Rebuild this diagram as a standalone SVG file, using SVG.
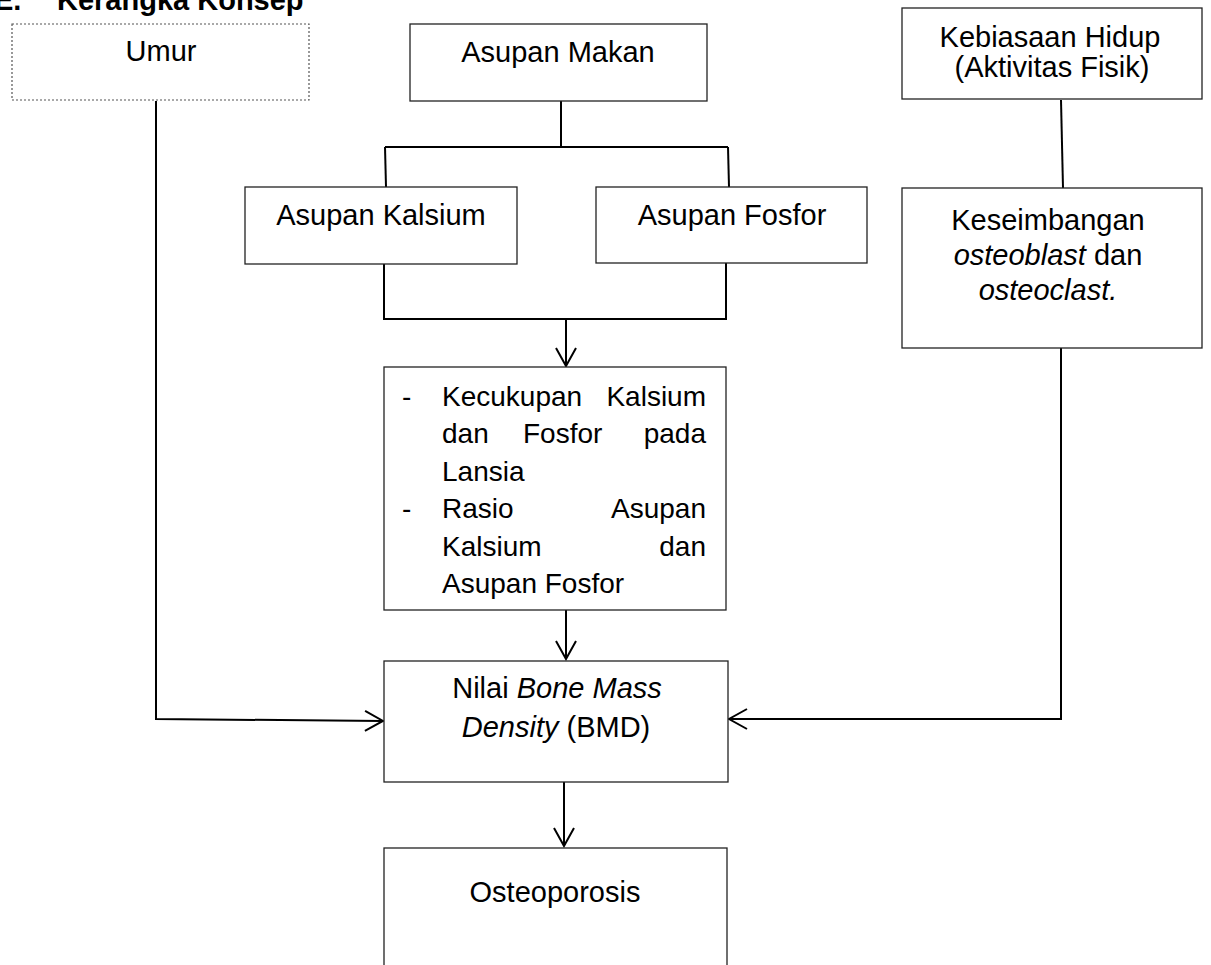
<svg xmlns="http://www.w3.org/2000/svg" width="1211" height="965" viewBox="0 0 1211 965">
<style>
.box{fill:#fff;stroke:#222;stroke-width:1.3}
.dot{fill:#fff;stroke:#555;stroke-width:1.2;stroke-dasharray:2 2}
.t{font-family:"Liberation Sans",Arial,sans-serif;font-size:29px;fill:#000}
.k{font-family:"Liberation Sans",Arial,sans-serif;font-size:28px;fill:#000}
.c{text-anchor:middle}
.e{text-anchor:end}
.i{font-style:italic}
.ln{fill:none;stroke:#000;stroke-width:2}
.title{font-family:"Liberation Sans",Arial,sans-serif;font-size:29px;font-weight:bold;fill:#000}
</style>
<defs>
<marker id="ar" viewBox="-20 -12 22 24" markerWidth="22" markerHeight="24" refX="0" refY="0" orient="auto" markerUnits="userSpaceOnUse">
<path d="M-18,-10 L0,0 L-18,10" fill="none" stroke="#000" stroke-width="2"/>
</marker>
</defs>
<rect width="1211" height="965" fill="#fff"/>
<text class="title" x="-6" y="10">E.<tspan x="57">Kerangka Konsep</tspan></text>
<g id="connectors">
<path class="ln" d="M561,101 V147"/>
<path class="ln" d="M385,147 H728"/>
<path class="ln" d="M385,147 L386,187"/>
<path class="ln" d="M728,147 L729,187"/>
<path class="ln" d="M384,264 V319 H726 V263"/>
<path class="ln" d="M566,319 V366" marker-end="url(#ar)"/>
<path class="ln" d="M566,610 V659" marker-end="url(#ar)"/>
<path class="ln" d="M564,782 V846" marker-end="url(#ar)"/>
<path class="ln" d="M156,101 V719 L383,721" marker-end="url(#ar)"/>
<path class="ln" d="M1061,100 L1063,188"/>
<path class="ln" d="M1061,348 V719 H729" marker-end="url(#ar)"/>
</g>
<g id="umur">
<rect class="dot" x="12" y="24" width="297" height="76"/>
<text class="t c" x="161" y="61">Umur</text>
</g>
<g id="asupan-makan">
<rect class="box" x="410" y="24" width="297" height="77"/>
<text class="t c" x="558" y="62">Asupan Makan</text>
</g>
<g id="kebiasaan">
<rect class="box" x="902" y="8" width="300" height="91"/>
<text class="t c" x="1050" y="47">Kebiasaan Hidup</text>
<text class="t c" x="1052" y="77">(Aktivitas Fisik)</text>
</g>
<g id="asupan-kalsium">
<rect class="box" x="245" y="187" width="272" height="77"/>
<text class="t c" x="381" y="225">Asupan Kalsium</text>
</g>
<g id="asupan-fosfor">
<rect class="box" x="596" y="187" width="271" height="76"/>
<text class="t c" x="732" y="225">Asupan Fosfor</text>
</g>
<g id="keseimbangan">
<rect class="box" x="902" y="188" width="300" height="160"/>
<text class="t c" x="1048" y="230">Keseimbangan</text>
<text class="t c" x="1048" y="265"><tspan class="i">osteoblast</tspan> dan</text>
<text class="t c i" x="1048" y="300">osteoclast.</text>
</g>
<g id="kecukupan">
<rect class="box" x="384" y="367" width="342" height="243"/>
<text class="k" x="402" y="406">-</text>
<text class="k" x="442" y="406">Kecukupan</text>
<text class="k e" x="706" y="406">Kalsium</text>
<text class="k" x="442" y="443">dan</text>
<text class="k" x="523" y="443">Fosfor</text>
<text class="k e" x="706" y="443">pada</text>
<text class="k" x="442" y="481">Lansia</text>
<text class="k" x="402" y="518">-</text>
<text class="k" x="442" y="518">Rasio</text>
<text class="k e" x="706" y="518">Asupan</text>
<text class="k" x="442" y="556">Kalsium</text>
<text class="k e" x="706" y="556">dan</text>
<text class="k" x="442" y="593">Asupan Fosfor</text>
</g>
<g id="bmd">
<rect class="box" x="384" y="661" width="344" height="121"/>
<text class="t c" x="557" y="698">Nilai <tspan class="i">Bone Mass</tspan></text>
<text class="t c" x="556" y="737"><tspan class="i">Density</tspan> (BMD)</text>
</g>
<g id="osteoporosis">
<rect class="box" x="384" y="848" width="343" height="130"/>
<text class="t c" x="555" y="902">Osteoporosis</text>
</g>
</svg>
